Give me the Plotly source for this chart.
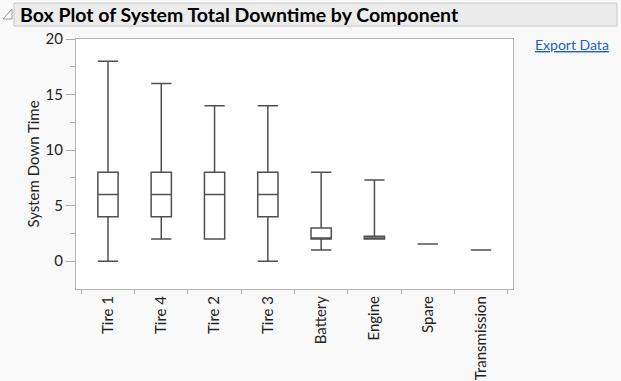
import plotly.graph_objects as go

categories = ["Tire 1", "Tire 4", "Tire 2", "Tire 3", "Battery", "Engine", "Spare", "Transmission"]
lower = [0, 2, 2, 0, 1, 2, 1.55, 1.0]
q1 = [4, 4, 2, 4, 2, 2, 1.55, 1.0]
median = [6, 6, 6, 6, 2, 2.1, 1.55, 1.0]
q3 = [8, 8, 8, 8, 3, 2.25, 1.55, 1.0]
upper = [18, 16, 14, 14, 8, 7.3, 1.55, 1.0]

W, H = 621, 381
L, R, T, B = 76, 513, 39, 289

def px(x):
    return (x - L) / (R - L)

def py(y):
    return (B - y) / (B - T)

font = "Lato"

fig = go.Figure()
fig.add_trace(go.Box(
    x=categories, q1=q1, median=median, q3=q3,
    lowerfence=lower, upperfence=upper,
    width=0.38, whiskerwidth=1,
    fillcolor="white", line=dict(color="#505050", width=1.5),
    boxpoints=False, showlegend=False, hoverinfo="skip",
))

shapes = [
    dict(type="rect", xref="paper", yref="paper", x0=px(14), x1=px(617), y0=py(26), y1=py(3),
         fillcolor="#ececec", line=dict(color="#c8c8c8", width=1), layer="below"),
    dict(type="path", xref="paper", yref="paper",
         path=f"M {px(3)} {py(19)} L {px(12)} {py(19)} L {px(12)} {py(9)} Z",
         line=dict(color="#9a9a9a", width=1), fillcolor="rgba(0,0,0,0)"),
]

annotations = [
    dict(text="<b>Box Plot of System Total Downtime by Component</b>", xref="paper", yref="paper",
         x=px(18), y=py(15), xanchor="left", yanchor="middle", showarrow=False,
         font=dict(family=font, size=19.5, color="#000000")),
    dict(text="<u>Export Data</u>", xref="paper", yref="paper",
         x=px(533), y=py(44), xanchor="left", yanchor="middle", showarrow=False,
         font=dict(family=font, size=14, color="#1a5fc8")),
]

fig.update_layout(
    width=W, height=H,
    margin=dict(l=L, r=W - R, t=T, b=H - B, pad=0, autoexpand=False),
    paper_bgcolor="#f9f9f9", plot_bgcolor="white",
    font=dict(family=font, size=14, color="#222222"),
    shapes=shapes, annotations=annotations,
    showlegend=False,
)
fig.update_xaxes(
    type="category", categoryorder="array", categoryarray=categories,
    tickangle=-90, tickson="boundaries", ticks="outside", ticklen=4, tickcolor="#aaaaaa",
    showline=True, linecolor="#b5b5b5", linewidth=1, mirror=True,
    showgrid=False, tickfont=dict(size=15),
)
fig.update_yaxes(
    range=[-2.5, 20], tickvals=[0, 5, 10, 15, 20], ticks="outside", ticklen=9, tickcolor="#aaaaaa",
    minor=dict(tickvals=[2.5, 7.5, 12.5, 17.5], ticks="outside", ticklen=5, tickcolor="#aaaaaa"),
    showline=True, linecolor="#b5b5b5", linewidth=1, mirror=True,
    showgrid=False, zeroline=False, tickfont=dict(size=15),
    title=dict(text="System Down Time", font=dict(size=15), standoff=2),
)

fig.write_html("out.html", config={"displayModeBar": False},
               post_script="document.body.style.margin='0px';")
